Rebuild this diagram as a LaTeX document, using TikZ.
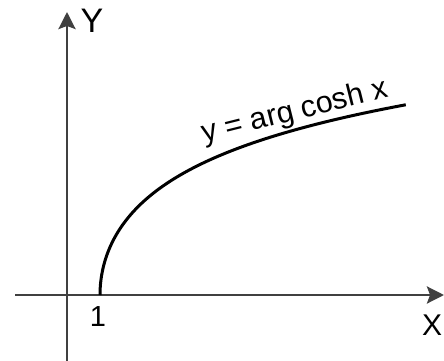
\documentclass[tikz,border=0pt]{standalone}
\usepackage{fontspec}
\setmainfont{Liberation Sans}
\usetikzlibrary{arrows.meta}
\begin{document}
\begin{tikzpicture}[x=1pt,y=-1pt,
  axis/.style={draw=black!75,line width=2.8pt,-{Stealth[length=17pt,width=17pt,inset=3pt]}},
  curve/.style={draw=black,line width=3pt},
  lbl/.style={inner sep=0pt}]
\useasboundingbox (0,0) rectangle (444,361);
\coordinate (xs) at (15,295);
\coordinate (xe) at (444,295);
\coordinate (ys) at (67,361);
\coordinate (ye) at (67,12);
\draw[axis] (xs) -- (xe);
\draw[axis] (ys) -- (ye);
\node[lbl,font=\fontsize{34}{34}\selectfont] (ylab) at (92,21) {Y};
\node[lbl,font=\fontsize{30}{30}\selectfont] (xlab) at (432,325) {X};
\node[lbl,font=\fontsize{29}{29}\selectfont] (one) at (98,317) {1};
\draw[curve] plot[domain=0:3.02,samples=80,smooth,variable=\t] ({67+33*cosh(\t)},{295-63*\t});
\node[lbl,rotate=14,anchor=base west,font=\fontsize{30.5}{30.5}\selectfont] (flab) at (204,143) {y = arg cosh x};
\end{tikzpicture}
\end{document}
